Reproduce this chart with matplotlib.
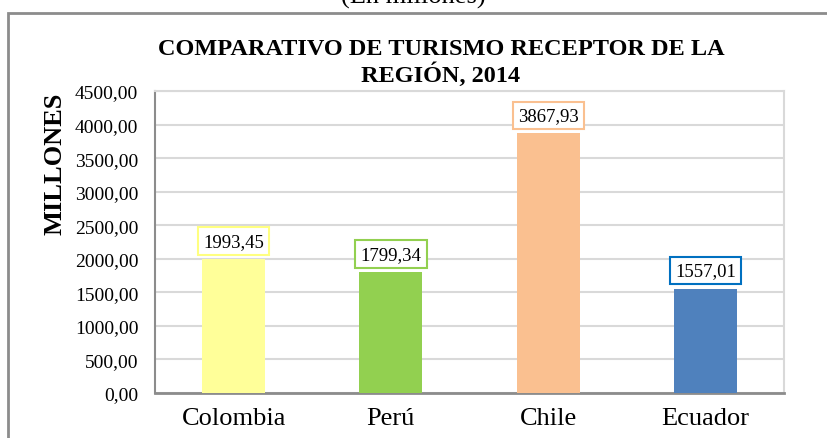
import matplotlib.pyplot as plt
from matplotlib.patches import Rectangle
from matplotlib.ticker import FuncFormatter

# data
paises = ["Colombia", "Perú", "Chile", "Ecuador"]
turistas = [1993.45, 1799.34, 3867.93, 1557.01]
colores = ["#FFFF99", "#92D050", "#FAC090", "#4F81BD"]
bordes = ["#FFFF80", "#92D050", "#FAC090", "#0070C0"]
y_ticks = [0, 500, 1000, 1500, 2000, 2500, 3000, 3500, 4000, 4500]

plt.rcParams['font.family'] = ['Liberation Serif', 'DejaVu Serif']

W, H = 827, 439
fig = plt.figure(figsize=(W / 100, H / 100), dpi=100)
ax = fig.add_axes([155 / W, 1 - 394 / H, (784 - 155) / W, (394 - 92) / H])

x = list(range(len(paises)))
ax.bar(x, turistas, width=0.4, color=colores, zorder=3)

for xi, v, b in zip(x, turistas, bordes):
    ax.annotate(f"{v:.2f}".replace(".", ","), (xi, v), xytext=(0, 13),
                textcoords="offset points", ha="center", va="center", fontsize=13.5,
                bbox=dict(boxstyle="square,pad=0.28", fc="white", ec=b, lw=1.5), zorder=4)

ax.set_xlim(-0.5, 3.5)
ax.set_ylim(0, 4500)
ax.set_yticks(y_ticks)
ax.yaxis.set_major_formatter(FuncFormatter(lambda v, p: f"{v:.2f}".replace(".", ",")))
ax.set_xticks(x)
ax.set_xticklabels(paises, fontsize=19)
ax.tick_params(axis="y", length=0, labelsize=14, pad=12)
ax.tick_params(axis="x", length=0, pad=10)
ax.grid(axis="y", color="#d9d9d9", lw=1.5, zorder=0)

for s in ["top", "right"]:
    ax.spines[s].set_color("#d9d9d9")
    ax.spines[s].set_linewidth(1.5)
ax.spines["left"].set_color("#8c8c8c")
ax.spines["left"].set_linewidth(1.5)
ax.spines["bottom"].set_color("#8c8c8c")
ax.spines["bottom"].set_linewidth(2)

fig.text(55 / W, 1 - 164 / H, "MILLONES", rotation=90, ha="center", va="center",
         fontsize=19, fontweight="bold")
fig.text(441 / W, 1 - 63 / H, "COMPARATIVO DE TURISMO RECEPTOR DE LA\nREGIÓN, 2014",
         ha="center", va="center", fontsize=17.5, fontweight="bold", linespacing=1.15)
fig.text(413 / W, 1 - 4 / H, "(En millones)", ha="center", va="baseline", fontsize=19)

# marco exterior del grafico
fig.add_artist(Rectangle((8 / W, -0.1), 1.2, 1.1 - 14 / H, transform=fig.transFigure,
                         fill=False, ec="#8c8c8c", lw=2, clip_on=False))

fig.savefig("out.png", dpi=100)
